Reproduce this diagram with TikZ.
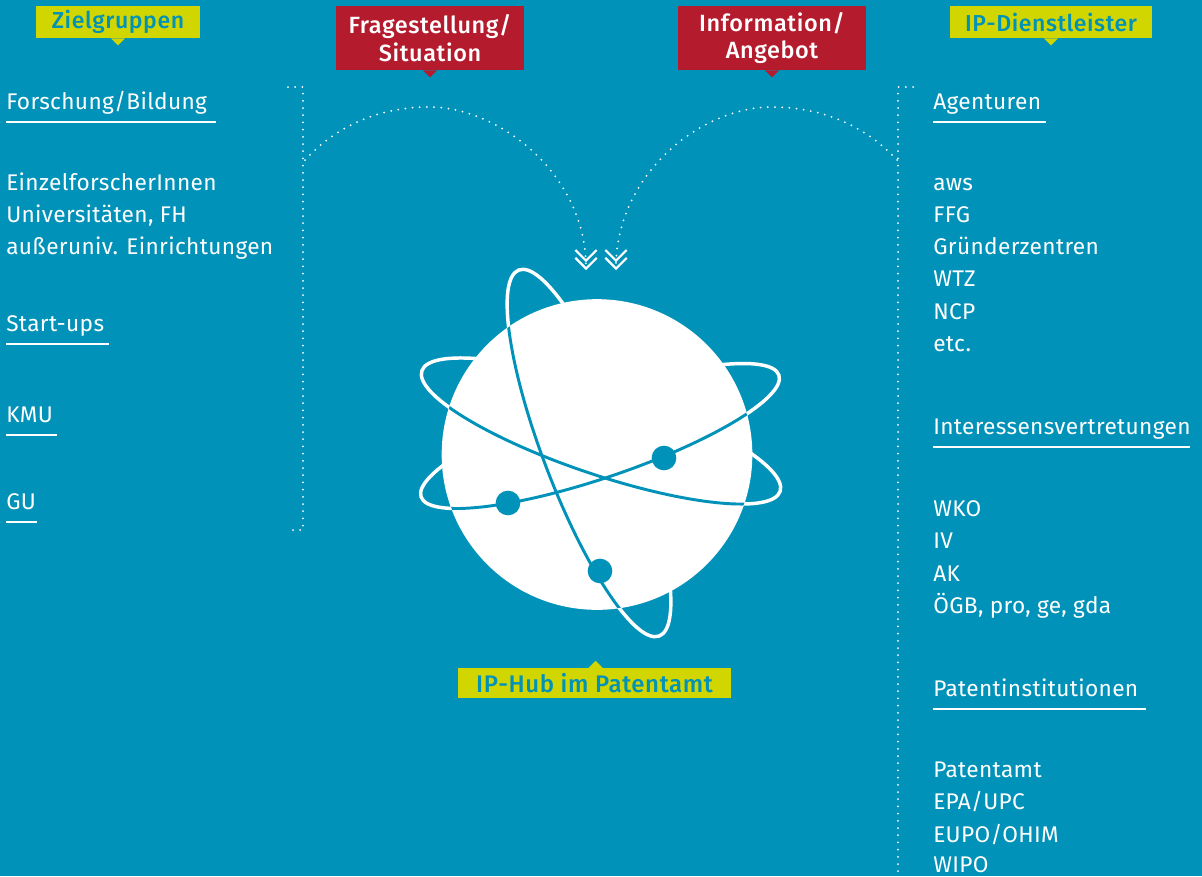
\documentclass[tikz,border=0pt]{standalone}
\usepackage{fontspec}
\setmainfont[LetterSpace=1.5]{Fira Sans}
\newfontfamily\labelfont[LetterSpace=2.5]{Fira Sans Medium}
\usetikzlibrary{arrows.meta}
\definecolor{hubblue}{RGB}{0,146,184}
\definecolor{hubred}{RGB}{180,28,46}
\definecolor{hubyellow}{RGB}{210,214,0}

\begin{document}
\begin{tikzpicture}[%
		x=0.75pt,
		y=-0.75pt,
		entry/.style={
			anchor=base west,
			inner sep=0pt,
			text=white,
			font=\fontsize{17pt}{18pt}\selectfont
		},
		heading/.style={
			entry,
			text depth=9.6pt
		},
		headrule/.style={
			white,
			line width=1.8pt
		},
		yellowbox/.style={
			rectangle,
			fill=hubyellow,
			text=hubblue,
			inner sep=0pt,
			align=center,
			minimum height=24pt,
			font=\labelfont\fontsize{17.3pt}{18pt}\selectfont
		},
		redbox/.style={
			rectangle,
			fill=hubred,
			text=white,
			inner sep=0pt,
			align=center,
			minimum height=48pt,
			font=\labelfont\fontsize{17.6pt}{20.5pt}\selectfont
		},
		dotline/.style={
			white,
			line width=1.5pt,
			line cap=round,
			dash pattern=on 0pt off 5.4pt
		},
		askarrow/.style={
			dotline,
			-{Straight Barb[length=8pt,width=16pt,line width=1.6pt,sep=-4pt]Straight Barb[length=8pt,width=16pt,line width=1.6pt]}
		},
		orbit/.style={
			white,
			line width=2.6pt
		},
		frontorbit/.style={
			hubblue,
			line width=2.2pt
		},
		electron/.style={
			circle,
			fill=hubblue,
			minimum size=18.5pt,
			inner sep=0pt
		}]

		\useasboundingbox[fill=hubblue] (0,0) rectangle (1202,876);

		% TOP LABELS

		\node (zielgruppen) [yellowbox,minimum width=123pt] at (118,22) {Zielgruppen};
		\node (dienstleister) [yellowbox,minimum width=151.5pt] at (1051,22) {IP-Dienstleister};
		\node (frage) [redbox,minimum width=141pt] at (430,38) {Fragestellung/\\Situation};
		\node (angebot) [redbox,minimum width=141pt] at (772,38) {Information/\\Angebot};
		\node (hub) [yellowbox,minimum height=22.5pt,minimum width=205pt,font=\labelfont\fontsize{18pt}{18pt}\selectfont] at (594.5,683) {IP-Hub im Patentamt};

		\fill[hubyellow] (zielgruppen.south) ++(-7,0) -- ++(14,0) -- ++(-7,7) -- cycle;
		\fill[hubyellow] (dienstleister.south) ++(-7,0) -- ++(14,0) -- ++(-7,7) -- cycle;
		\fill[hubred] (frage.south) ++(-7,0) -- ++(14,0) -- ++(-7,7) -- cycle;
		\fill[hubred] (angebot.south) ++(-7,0) -- ++(14,0) -- ++(-7,7) -- cycle;
		\fill[hubyellow] (hub.north) ++(-6,0) -- ++(7,-7) -- ++(7,7) -- cycle;

		% LEFT COLUMN

		\node (forschung) [heading,text width=157pt] at (6,109) {Forschung/Bildung};
		\node (einzel) [entry] at (6,190) {EinzelforscherInnen};
		\node (uni) [entry] at (6,222) {Universitäten, FH};
		\node (ausser) [entry] at (6,254) {außeruniv. Einrichtungen};
		\node (startups) [heading,text width=77pt] at (6,331) {Start-ups};
		\node (kmu) [heading,text width=37.5pt] at (6,422) {KMU};
		\node (gu) [heading,text width=23pt] at (6,509) {GU};

		\draw[headrule] (forschung.south west) -- (forschung.south east);
		\draw[headrule] (startups.south west) -- (startups.south east);
		\draw[headrule] (kmu.south west) -- (kmu.south east);
		\draw[headrule] (gu.south west) -- (gu.south east);

		% RIGHT COLUMN

		\node (agenturen) [heading,text width=84pt] at (933,109) {Agenturen};
		\node (aws) [entry] at (933,190) {aws};
		\node (ffg) [entry] at (933,222) {FFG};
		\node (gruender) [entry] at (933,254) {Gründerzentren};
		\node (wtz) [entry] at (933,286) {WTZ};
		\node (ncp) [entry] at (933,319) {NCP};
		\node (etc) [entry] at (933,351) {etc.};
		\node (interessen) [heading,text width=192pt] at (933,434) {Interessensvertretungen};
		\node (wko) [entry] at (933,516) {WKO};
		\node (iv) [entry] at (933,548) {IV};
		\node (ak) [entry] at (933,581) {AK};
		\node (oegb) [entry] at (933,613) {ÖGB, pro, ge, gda};
		\node (institutionen) [heading,text width=159pt] at (933,696) {Patentinstitutionen};
		\node (patentamt) [entry] at (933,777) {Patentamt};
		\node (epa) [entry] at (933,809) {EPA/UPC};
		\node (eupo) [entry] at (933,842) {EUPO/OHIM};
		\node (wipo) [entry] at (933,872) {WIPO};

		\draw[headrule] (agenturen.south west) -- (agenturen.south east);
		\draw[headrule] (interessen.south west) -- (interessen.south east);
		\draw[headrule] (institutionen.south west) -- (institutionen.south east);

		% DOTTED BRACKETS

		\coordinate (lefttop) at (288,87);
		\coordinate (leftcorner) at (303,87);
		\coordinate (leftend) at (303,530);
		\coordinate (leftfoot) at (288,530);
		\coordinate (righttop) at (913,87);
		\coordinate (rightcorner) at (898,87);
		\coordinate (rightend) at (898,876);

		\draw[dotline] (lefttop) -- (leftcorner) -- (leftend) -- (leftfoot);
		\draw[dotline] (righttop) -- (rightcorner) -- (rightend);

		% GLOBE

		\draw[orbit,shift={(589,453)},rotate=-69] (0,0) ellipse [x radius=196,y radius=45];
		\draw[orbit,shift={(601,431)},rotate=-18.6] (0,0) ellipse [x radius=189,y radius=43.5];
		\draw[orbit,shift={(600,436)},rotate=18.8] (0,0) ellipse [x radius=189,y radius=41.5];

		\node (globe) [circle,fill=white,inner sep=0pt,minimum size=233pt] at (597,454.5) {};

		\begin{scope}
			\clip (597,454.5) circle [radius=155];
			\draw[frontorbit,shift={(589,453)},rotate=-69] (-196,0) arc [start angle=180,end angle=0,x radius=196,y radius=45];
			\draw[frontorbit,shift={(601,431)},rotate=-18.6] (-189,0) arc [start angle=180,end angle=0,x radius=189,y radius=43.5];
			\draw[frontorbit,shift={(600,436)},rotate=18.8] (-189,0) arc [start angle=180,end angle=0,x radius=189,y radius=41.5];
		\end{scope}

		\node (electron1) [electron] at (508,503) {};
		\node (electron2) [electron] at (664,458) {};
		\node (electron3) [electron] at (600,571) {};

		% ARROWS

		\coordinate (frageout) at (305,160);
		\coordinate (frageapex) at (429,107);
		\coordinate (angebotout) at (897,160);
		\coordinate (angebotapex) at (772,107);
		\coordinate (frageend) at (586,270);
		\coordinate (angebotend) at (616,270);

		\draw[askarrow] (frageout) .. controls (340,122) and (385,107) .. (frageapex) .. controls (500,107) and (586,175) .. (frageend);
		\draw[askarrow] (angebotout) .. controls (862,122) and (816,107) .. (angebotapex) .. controls (700,107) and (616,175) .. (angebotend);
\end{tikzpicture}
\end{document}
